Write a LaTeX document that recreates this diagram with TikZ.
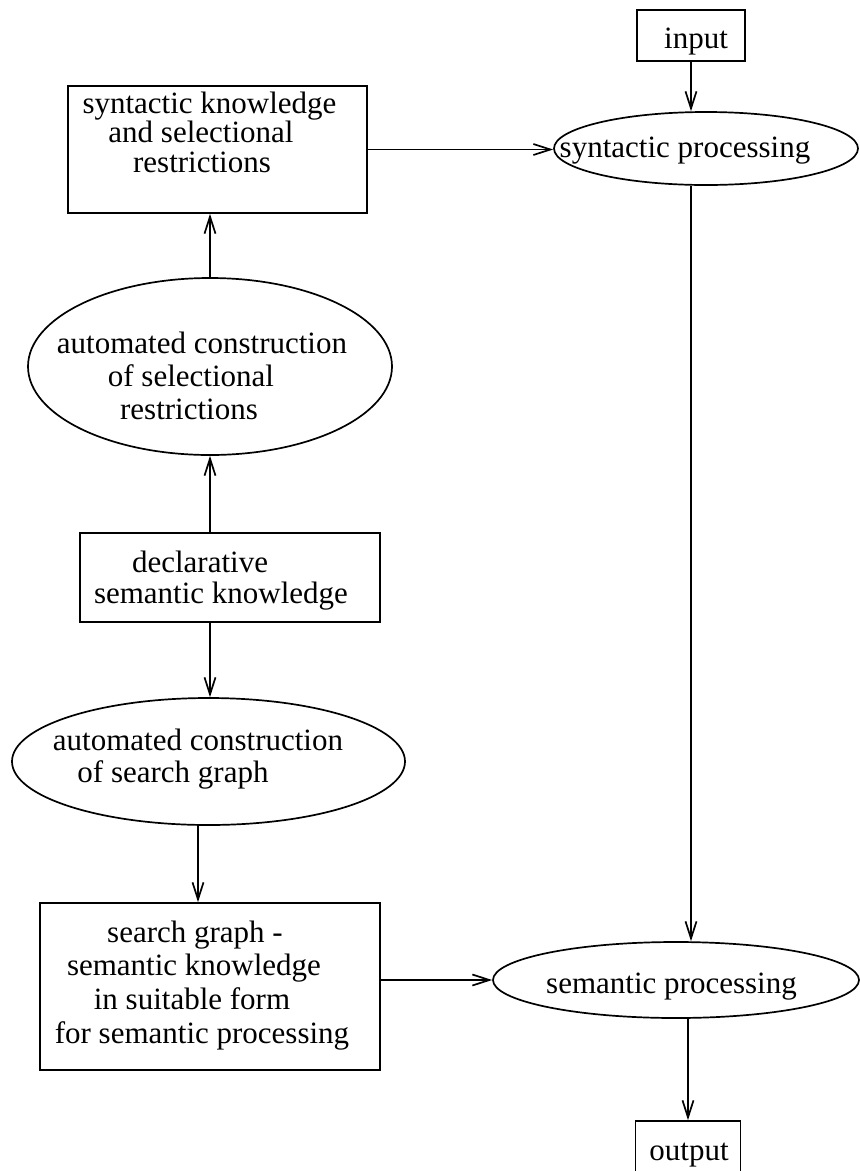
\documentclass[tikz,border=0pt]{standalone}
\usepackage{fontspec}
\setmainfont{Liberation Serif}
\usetikzlibrary{shapes.geometric,arrows.meta}
\newcommand{\pad}[1]{\rule{#1}{0pt}}
\begin{document}
\begin{tikzpicture}[x=1pt,y=-1pt,
  line width=1.7pt,
  box/.style={draw,rectangle,inner sep=0pt},
  oval/.style={draw,ellipse,inner sep=0pt},
  txt/.style={align=center,inner sep=0pt,font=\fontsize{31}{#1}\selectfont},
  txt/.default=33,
  one/.style={inner sep=0pt,anchor=base,font=\fontsize{31}{33}\selectfont},
  arr/.style={-{Straight Barb[length=17pt,width=11pt]}}]
\useasboundingbox (0,0) rectangle (860,1171);
\clip (0,0) rectangle (860,1171);

% shapes
\node[box,minimum width=108pt,minimum height=51pt] (input) at (691,35.5) {};
\node[box,minimum width=299pt,minimum height=127pt] (synk) at (217.5,149.5) {};
\node[oval,minimum width=304pt,minimum height=73pt] (synp) at (706,148.5) {};
\node[oval,minimum width=364pt,minimum height=177pt] (acsr) at (210,366.5) {};
\node[box,minimum width=300pt,minimum height=89pt] (dsk) at (230,577.5) {};
\node[oval,minimum width=393pt,minimum height=127pt] (acsg) at (208.5,761.5) {};
\node[box,minimum width=340pt,minimum height=167pt] (sgb) at (210,986.5) {};
\node[oval,minimum width=366pt,minimum height=76pt] (semp) at (676,980) {};
\node[box,minimum width=105pt,minimum height=51pt] (output) at (688,1146.5) {};

% texts
\node[one] (input-t) at (696,48) {input};
\node[one] (synp-t) at (685,157) {syntactic processing};
\node[one] (semp-t) at (671.5,993) {semantic processing};
\node[one] (output-t) at (689,1160) {output};
\node[txt=29.5] (synk-t) at (209.5,131.9) {syntactic knowledge\\and selectional\pad{17pt}\\restrictions\pad{15pt}};
\node[txt=33] (acsr-t) at (202,375.4) {automated construction\\of selectional\pad{22pt}\\restrictions\pad{26pt}};
\node[txt=31] (dsk-t) at (221,580.3) {declarative\pad{42pt}\\semantic knowledge};
\node[txt=32] (acsg-t) at (198,758.8) {automated construction\\of search graph\pad{50pt}};
\node[txt=33.7] (sgb-t) at (202,985.3) {search graph -\pad{14pt}\\semantic knowledge\pad{16pt}\\in suitable form\pad{20pt}\\for semantic processing};

% connectors
\draw[arr] (input.south) -- (input.south |- synp.north);
\draw[arr] (synk.east) -- (synk.east -| synp.west);
\draw[arr] (acsr.north) -- (acsr.north |- synk.south);
\draw[arr] (acsr.south |- dsk.north) -- (acsr.south);
\draw[arr] (acsr.south |- dsk.south) -- (acsr.south |- acsg.north);
\draw[arr] ([xshift=-10.5pt]acsg.south) -- ([xshift=-10.5pt]acsg.south |- sgb.north);
\draw[arr] (sgb.east |- semp.west) -- (semp.west);
\draw[arr] (input.south |- synp.south) -- (input.south |- semp.north);
\draw[arr] (output.north |- semp.south) -- (output.north);
\end{tikzpicture}
\end{document}
